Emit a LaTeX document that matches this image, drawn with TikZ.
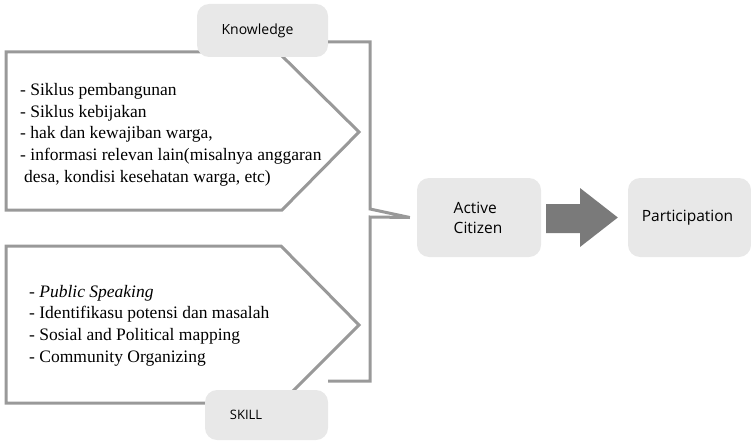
\documentclass[tikz,border=0pt]{standalone}
\usepackage{fontspec}
\setmainfont{Liberation Serif}
\newfontfamily\boxfont{Open Sans}
\definecolor{linegrey}{RGB}{153,153,153}
\definecolor{boxgrey}{RGB}{232,232,232}
\definecolor{arrowgrey}{RGB}{122,122,122}
\begin{document}
\begin{tikzpicture}[x=1pt,y=-1pt,
  frame/.style={draw=linegrey,line width=3pt,line join=miter},
  pill/.style={fill=boxgrey,rounded corners=12pt,inner sep=0pt},
  pilltext/.style={font=\boxfont\fontsize{14}{20.5}\selectfont,align=center,inner sep=0pt},
  bigtext/.style={font=\boxfont\fontsize{15.5}{20.5}\selectfont,align=left,inner sep=0pt},
  listtext/.style={anchor=base west,align=left,inner sep=0pt,font=\fontsize{17.5}{21.6}\selectfont}]
\useasboundingbox (0,0) rectangle (751,441);
% pentagons
\draw[frame] (6,52) -- (278,52) -- (359,132) -- (282,210) -- (6,210) -- cycle;
\draw[frame] (6,246) -- (281,246) -- (359,325) -- (281,403) -- (6,403) -- cycle;
% list texts
\node[listtext] (klist) at (20,182) {- Siklus pembangunan\\- Siklus kebijakan\\- hak dan kewajiban warga,\\- informasi relevan lain(misalnya anggaran\\\hspace*{4pt}desa, kondisi kesehatan warga, etc)};
\node[listtext] (slist) at (29,362) {- \textit{Public Speaking}\\- Identifikasu potensi dan masalah\\- Sosial and Political mapping\\- Community Organizing};
% boxes
\node[pill,minimum width=131pt,minimum height=53pt] (know) at (262.5,30.5) {};
\node[pilltext] (knowt) at (257.5,30.5) {Knowledge};
\node[pill,minimum width=123pt,minimum height=50pt] (skill) at (266.5,415) {};
\node[pilltext,font=\boxfont\fontsize{13}{20}\selectfont] (skillt) at (246,415) {SKILL};
\node[pill,minimum width=124pt,minimum height=79pt] (ac) at (479,217.5) {};
\node[bigtext] (act) at (478,218) {Active\\Citizen};
\node[pill,minimum width=123pt,minimum height=79pt] (part) at (689.5,217.5) {};
\node[bigtext] (partt) at (687.5,218) {Participation};
% bracket
\coordinate (ktop) at (know.east |- 0,42);
\coordinate (kbot) at (know.east |- 0,381);
\draw[frame] (ktop) -- (370,42) -- (370,209) -- ([xshift=-7pt]ac.west) -- (370,217) -- (370,381) -- (kbot);
% arrow
\fill[arrowgrey] ([xshift=5pt]ac.east |- 0,204) -- (580,204) -- (580,188) -- ([xshift=-10pt]part.west) -- (580,247) -- (580,233) -- ([xshift=5pt]ac.east |- 0,233) -- cycle;
\end{tikzpicture}
\end{document}
